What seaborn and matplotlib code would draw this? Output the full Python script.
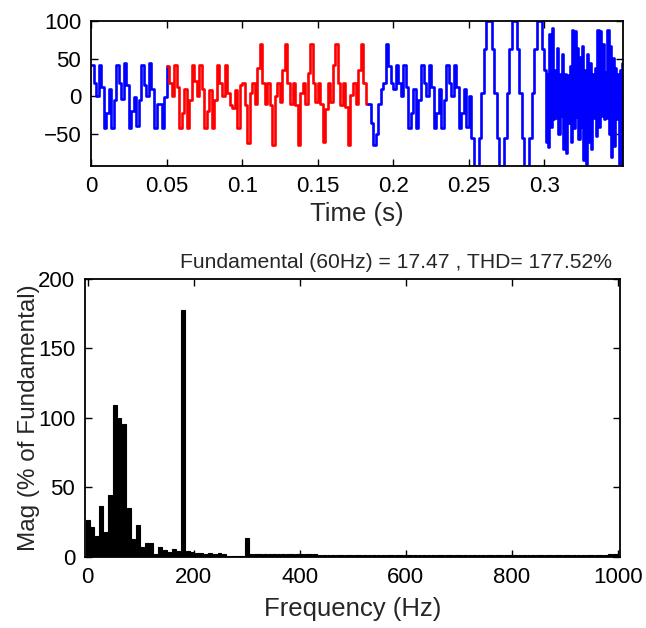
import numpy as np
import matplotlib
matplotlib.use("Agg")
import matplotlib.pyplot as plt
import seaborn as sns

# ---------------- data ----------------
fs = 600          # sample rate of the stepped trace (Hz)
fs_dense = 1200   # finer samples for the noisy stretch after 0.3 s

# samples 0..30 (blue, 0 - 0.05 s)
blue_start = [42, 18, 0, 42, 12, -42, -22, 10, -42, -5,
              42, 18, -3, 44, 15, -42, -20, -1, -39, -5,
              42, 15, 1, 44, 10, -42, -10, -10, -42, -1,
              40]

# samples 30..110 (red analysis window)
red_window = [40, 18, 0, 42, 12, -42, -22, 10, -42, -5,
              42, 20, 0, 42, 10, -42, -20, 8, -42, -5,
              42, 18, 0, 42, 5, -12, -15, 8, -42, 15,
              18, -12, -62, 4, 18, -10, 38, 69, 18, -10,
              18, -12, -64, 0, 18, -8, 35, 69, 18, -10,
              18, -12, -64, 4, 18, -10, 31, 69, 18, -8,
              18, -10, -60, -17, 18, -8, 42, 69, 18, -12,
              18, -14, -64, 2, 18, -10, 35, 69, 18, -10,
              -10]

# samples 110..179 (blue again)
blue_end = [-10,
            -35, -64, -50, -10, 10, 18, 69, 40, 18,
            10, 42, 18, 0, 42, 12, -42, -22, 10, -42,
            -5, 42, 18, 0, 42, 12, -42, -22, 10, -42,
            -5, 42, 18, 0, 42, 12, -42, -22, 10, -40,
            0, -55, -92, -92, -55, 4, 63, 100, 100, 63,
            4, -55, -92, -92, -55, 4, 63, 100, 100, 63,
            4, -55, -92, -92, -55, 4, 63, 100, 100, 63]

# noisy stretch from 0.3 s: alternating upper / lower samples
dense_hi = [35, 30, 83, 90, 35, 64, 30, 56, 30, 28, 40, 88, 86, 64, 52, 67,
            35, 56, 44, 30, 38, 88, 86, 69, 32, 88, 67, 51, 38, 30, 35, 44]
dense_lo = [-60, -67, -40, -30, -28, -50, -26, -69, -75, -35, -60, -42, -27, -56, -40, -84,
            -89, -60, -70, -28, -52, -40, -26, -30, -28, -50, -80, -66, -30, -89, -90, -40]

# harmonic spectrum, one bar every 60/7 Hz
freq_step = 60 / 7
mag = [26.5, 21.7, 15, 37, 18, 44.5, 109, 100, 96, 35,
       13, 23, 7, 10, 10, 2, 7, 5, 3.5, 6,
       4, 177.5, 4, 3.5, 3, 3, 2, 3, 2, 3,
       2, 0.8, 0.8, 0.8, 0.8, 14, 2, 2, 2, 2,
       2, 2, 2, 2, 2, 2, 2, 2, 2, 2,
       2, 1.3, 1.3, 1.3, 1.3, 1.3, 1.3, 1.3, 1.3, 1.3,
       1.3, 1.3, 1.3, 1.3, 1.3, 1.3, 1.3, 1.3, 1.3, 1.3,
       1.3, 1.3, 1.3, 1.3, 1.3, 1.3, 1.3, 1.3, 1.3, 1.3,
       1.3, 1.3, 1.3, 1.3, 1.3, 1.3, 1.3, 1.3, 1.3, 1.3,
       1.3, 1.3, 1.3, 1.3, 1.3, 1.3, 1.3, 1.3, 1.3, 1.3,
       1.3, 1.3, 1.3, 1.3, 1.3, 1.3, 1.3, 1.3, 1.3, 1.3,
       1.3, 1.3, 1.3, 1.3, 1.3, 2, 2]

title_text = "Fundamental (60Hz) = 17.47 , THD= 177.52%"

# ---------------- figure ----------------
sns.set_theme(style="white")
plt.rcParams["font.family"] = ["Liberation Sans", "DejaVu Sans"]

fig = plt.figure(figsize=(6.46, 6.28), dpi=100)
ax1 = fig.add_axes([0.1409, 0.7357, 0.8235, 0.2314])
ax2 = fig.add_axes([0.1316, 0.1131, 0.8282, 0.4427])

################################################
# Time trace
################################################

t_start = np.arange(0, 31) / fs
t_red = np.arange(30, 111) / fs
t_end = np.concatenate([np.arange(110, 180) / fs,
                        0.3 + np.arange(2 * len(dense_hi)) / fs_dense])
v_end = np.concatenate([blue_end, np.column_stack([dense_hi, dense_lo]).ravel()])

line_kw = dict(drawstyle="steps-post", lw=1.9, estimator=None, sort=False, ax=ax1)
sns.lineplot(x=t_start, y=blue_start, color="#0000ff", **line_kw)
sns.lineplot(x=t_red, y=red_window, color="#ff0000", **line_kw)
sns.lineplot(x=t_end, y=v_end, color="#0000ff", **line_kw)

ax1.set_xlim(0, 0.352)
ax1.set_ylim(-92, 100)
ax1.set_xticks([0, 0.05, 0.1, 0.15, 0.2, 0.25, 0.3])
ax1.set_xticklabels(["0", "0.05", "0.1", "0.15", "0.2", "0.25", "0.3"])
ax1.set_yticks([-50, 0, 50, 100])
ax1.set_xlabel("Time (s)", fontsize=18.5)
ax1.xaxis.set_label_coords(0.5, -0.25)
ax1.set_ylabel("")

################################################
# Spectrum
################################################

freqs = np.arange(len(mag)) * freq_step
sns.barplot(x=freqs, y=mag, native_scale=True, color="black", saturation=1,
            width=0.85, edgecolor="black", linewidth=0.8, ax=ax2)

ax2.set_xlim(-5, 1004)
ax2.set_ylim(0, 200)
ax2.set_xticks([0, 200, 400, 600, 800, 1000])
ax2.set_xticklabels(["0", "200", "400", "600", "800", "1000"])
ax2.set_yticks([0, 50, 100, 150, 200])
ax2.set_xlabel("Frequency (Hz)", fontsize=18.5)
ax2.xaxis.set_label_coords(0.5, -0.145)
ax2.set_ylabel("Mag (% of Fundamental)", fontsize=17.5)
ax2.yaxis.set_label_coords(-0.084, 0.5)
ax2.text(0.581, 1.025, title_text, transform=ax2.transAxes,
         ha="center", va="bottom", fontsize=15.2)

for ax in (ax1, ax2):
    for s in ax.spines.values():
        s.set_visible(True)
        s.set_color("black")
        s.set_linewidth(1.3)
    ax.tick_params(direction="in", length=5, width=1, top=True, right=True,
                   bottom=True, left=True, labelsize=16, colors="black", pad=7)
    ax.grid(False)

fig.savefig("out.png", dpi=100)
